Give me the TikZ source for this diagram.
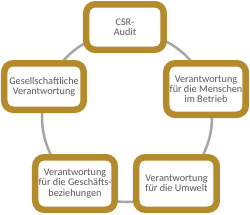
\documentclass[tikz,border=0pt]{standalone}
\usepackage{fontspec}
\setmainfont{Carlito}
\definecolor{gold}{HTML}{B38B2D}
\definecolor{ringgray}{HTML}{A6A6A6}
\definecolor{textgray}{HTML}{595959}

\begin{document}
\begin{tikzpicture}[x=1pt,y=-1pt,
  box/.style={draw=gold, line width=6.5pt, rounded corners=9pt, fill=white,
    align=center, text=textgray, inner sep=0pt,
    font=\fontsize{10.2}{10.2}\selectfont}]
\useasboundingbox (0,0) rectangle (250,215);
\draw[ringgray, line width=2.5pt] (127,117) circle (85pt);
\node[box, minimum width=77.5pt, minimum height=45.5pt] (csr) at (125,27) {CSR-\\Audit};
\node[box, minimum width=79.5pt, minimum height=46.5pt] (gesell) at (44,86.5) {Gesellschaftliche\\Verantwortung};
\node[box, minimum width=79.5pt, minimum height=51.5pt] (menschen) at (206,89) {Verantwortung\\für die Menschen\\im Betrieb};
\node[box, minimum width=79.5pt, minimum height=52.5pt] (geschaeft) at (75,183.5) {Verantwortung\\für die Geschäfts-\\beziehungen};
\node[box, minimum width=80.5pt, minimum height=52.5pt] (umwelt) at (176.5,183.5) {Verantwortung\\für die Umwelt};
\end{tikzpicture}
\end{document}
